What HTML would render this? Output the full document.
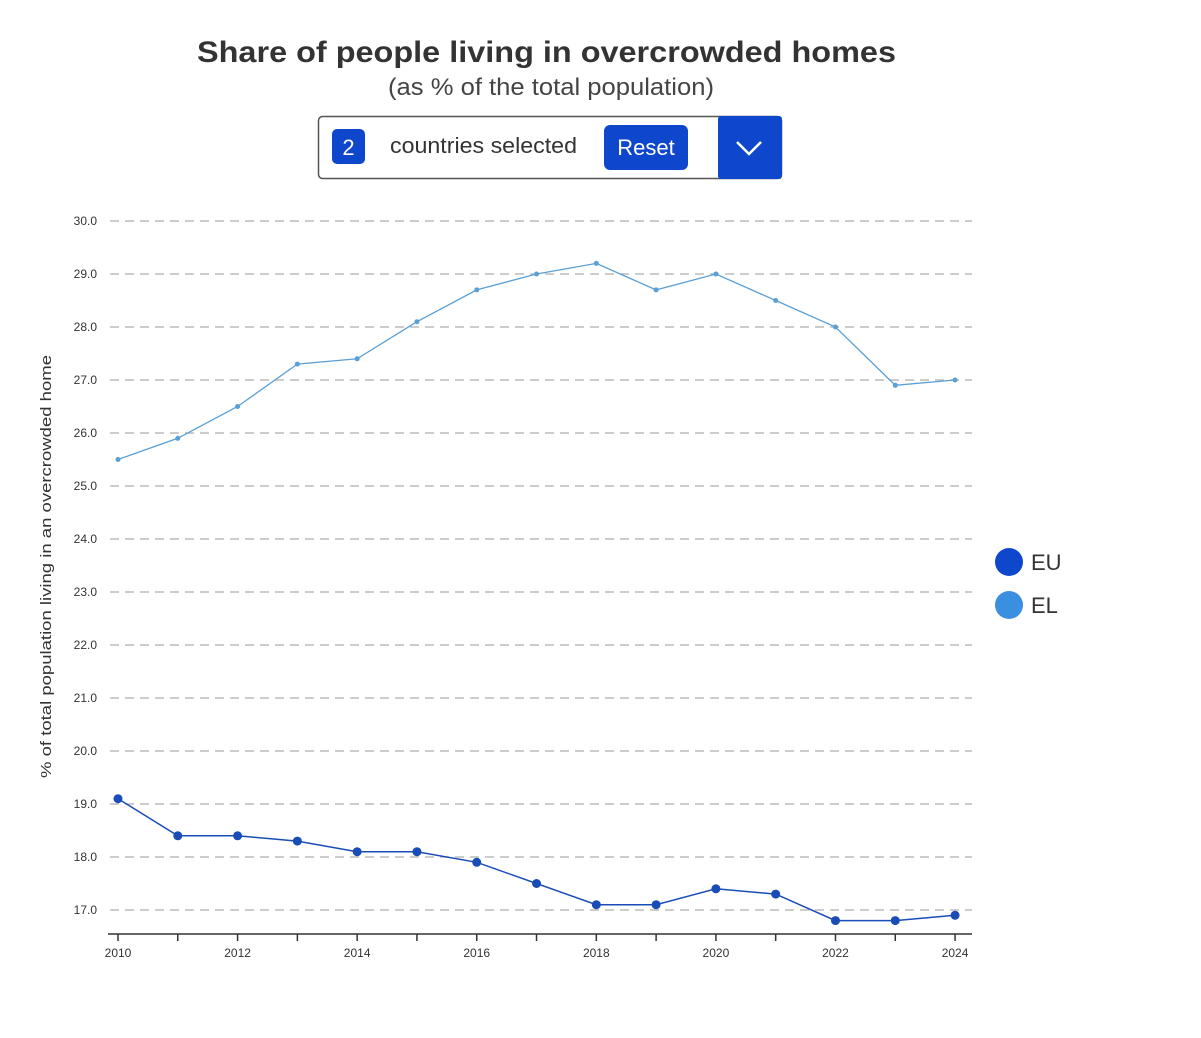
<!DOCTYPE html>
<html><head><meta charset="utf-8"><style>
body{margin:0;background:#fff;width:1201px;height:1033px;overflow:hidden;font-family:"Liberation Sans",sans-serif}
</style></head><body>
<svg id="s" width="1201" height="1033" xmlns="http://www.w3.org/2000/svg" font-family="Liberation Sans, sans-serif">
<text x="197" y="62" textLength="699" lengthAdjust="spacingAndGlyphs" font-size="30" font-weight="bold" fill="#333">Share of people living in overcrowded homes</text>
<text x="388" y="95" textLength="326" lengthAdjust="spacingAndGlyphs" font-size="24" fill="#444">(as % of the total population)</text>
<rect x="318.5" y="116.5" width="463" height="62" rx="4" fill="#fff" stroke="#555" stroke-width="1.5"/>
<rect x="718" y="116" width="64" height="63" rx="3" fill="#0e47cb"/>
<polyline points="737,142 749,154 761,142" fill="none" stroke="#fff" stroke-width="2.5"/>
<rect x="332" y="129" width="33" height="35" rx="5" fill="#0e47cb"/>
<text x="348.5" y="155" text-anchor="middle" font-size="22" fill="#fff">2</text>
<text x="390" y="153" textLength="187" lengthAdjust="spacingAndGlyphs" font-size="22" fill="#333">countries selected</text>
<rect x="604" y="125" width="84" height="45" rx="6" fill="#0e47cb"/>
<text x="646" y="155" text-anchor="middle" font-size="22" fill="#fff">Reset</text>
<text transform="translate(51,778) rotate(-90)" textLength="423" lengthAdjust="spacingAndGlyphs" font-size="15" fill="#333">% of total population living in an overcrowded home</text>
<line x1="108" y1="934" x2="972" y2="934" stroke="#333" stroke-width="1.5"/>
<circle cx="1009" cy="562" r="14" fill="#0e47cb"/>
<text x="1031" y="570" font-size="22" fill="#333">EU</text>
<circle cx="1009" cy="605" r="14" fill="#3b8fe0"/>
<text x="1031" y="613" font-size="22" fill="#333">EL</text>
<g id="g"></g>
</svg>
<script>
var g=document.getElementById('g'),h='';
function y(v){return 910-(v-17)*53;}
function x(i){return 118+i*59.79;}
for(var v=17;v<=30;v++){h+='<line x1="110" x2="972" y1="'+y(v)+'" y2="'+y(v)+'" stroke="#bbb" stroke-width="1.5" stroke-dasharray="9,6"/>';
h+='<text x="97" y="'+(y(v)+4)+'" text-anchor="end" font-size="12" fill="#333">'+v+'.0</text>';}
for(var i=0;i<15;i++){h+='<line x1="'+x(i)+'" x2="'+x(i)+'" y1="934" y2="941" stroke="#333" stroke-width="1.5"/>';
if(i%2==0)h+='<text x="'+x(i)+'" y="957" text-anchor="middle" font-size="12" fill="#333">'+(2010+i)+'</text>';}
var el=[25.5,25.9,26.5,27.3,27.4,28.1,28.7,29.0,29.2,28.7,29.0,28.5,28.0,26.9,27.0];
var eu=[19.1,18.4,18.4,18.3,18.1,18.1,17.9,17.5,17.1,17.1,17.4,17.3,16.8,16.8,16.9];
function s(d,c,r,w){var p=d.map(function(v,i){return x(i)+','+y(v)}).join(' ');
h+='<polyline points="'+p+'" fill="none" stroke="'+c+'" stroke-width="'+w+'"/>';
d.forEach(function(v,i){h+='<circle cx="'+x(i)+'" cy="'+y(v)+'" r="'+r+'" fill="'+c+'"/>';});}
s(el,'#5a9fd6',2.5,1.3);s(eu,'#1a4cb8',4.5,1.5);
g.innerHTML=h;
</script>
</body></html>
